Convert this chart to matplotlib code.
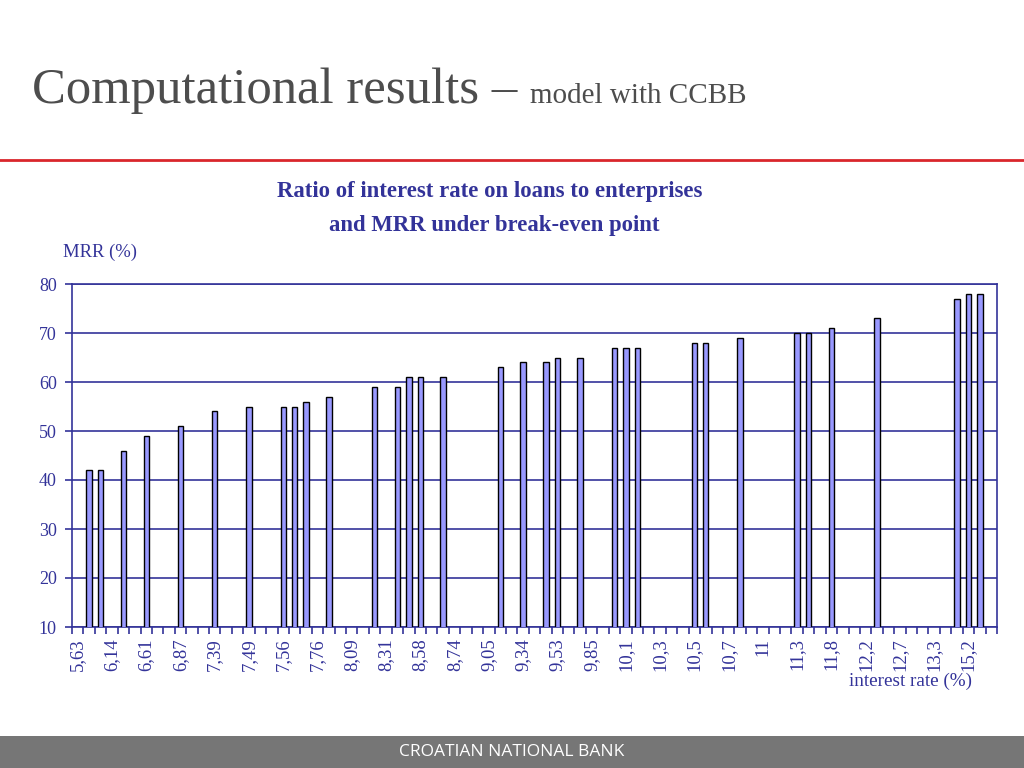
import numpy as np
import matplotlib
matplotlib.use('Agg')
import matplotlib.pyplot as plt

# interest rate labels shown on the axis (every third category)
rate_labels = ['5,63', '6,14', '6,61', '6,87', '7,39', '7,49', '7,56', '7,76', '8,09',
               '8,31', '8,58', '8,74', '9,05', '9,34', '9,53', '9,85', '10,1', '10,3',
               '10,5', '10,7', '11', '11,3', '11,8', '12,2', '12,7', '13,3', '15,2']

# MRR (%) for each of the 81 categories, None = no bar
N = None
mrr = [N, 42, 42, N, 46, N, 49, N, N,
       51, N, N, 54, N, N, 55, N, N,
       55, 55, 56, N, 57, N, N, N, 59,
       N, 59, 61, 61, N, 61, N, N, N,
       N, 63, N, 64, N, 64, 65, N, 65,
       N, N, 67, 67, 67, N, N, N, N,
       68, 68, N, N, 69, N, N, N, N,
       70, 70, N, 71, N, N, N, 73, N,
       N, N, N, N, N, 77, 78, 78, N]

yticks = [10, 20, 30, 40, 50, 60, 70, 80]

navy = '#333399'
serif = 'Liberation Serif'

fig = plt.figure(figsize=(10.24, 7.68), dpi=100)

# slide header
fig.text(32 / 1024, 1 - 103 / 768, 'Computational results \u2013', fontsize=36.5,
         family=serif, color='#4d4d4d', ha='left', va='baseline')
fig.text(530 / 1024, 1 - 103 / 768, 'model with CCBB', fontsize=21,
         family=serif, color='#4d4d4d', ha='left', va='baseline')
fig.add_artist(plt.Line2D([0, 1], [1 - 160 / 768] * 2, color='#d9262b', lw=2))

# chart title
fig.text(490 / 1024, 1 - 192 / 768, 'Ratio of interest rate on loans to enterprises',
         fontsize=16.4, family=serif, weight='bold', color=navy, ha='center', va='center')
fig.text(494 / 1024, 1 - 225 / 768, 'and MRR under break-even point',
         fontsize=16.4, family=serif, weight='bold', color=navy, ha='center', va='center')

ax = fig.add_axes([72 / 1024, 1 - 627 / 768, 925 / 1024, 343 / 768])

x = np.arange(len(mrr))
pos = [i for i in x if mrr[i] is not None]
vals = [mrr[i] for i in pos]
ax.bar(pos, vals, width=0.47, color='#9999ff', edgecolor='black', linewidth=1, zorder=3)

ax.set_xlim(-0.5, len(mrr) - 0.5)
ax.set_ylim(10, 80)
ax.set_yticks(yticks)
ax.yaxis.grid(True, color=navy, lw=1.2, zorder=0)
for s in ax.spines.values():
    s.set_color(navy)
    s.set_linewidth(1.2)

ax.set_xticks(np.arange(0, len(mrr), 3))
ax.set_xticklabels(rate_labels, rotation=90, family=serif, fontsize=13.5, color=navy)
ax.set_xticks(np.arange(-0.5, len(mrr), 1), minor=True)
ax.tick_params(axis='x', which='major', length=0, pad=8)
ax.tick_params(axis='x', which='minor', length=5, color=navy, width=1.2, direction='out')
ax.tick_params(axis='y', length=5, color=navy, width=1.2, labelsize=13, labelcolor=navy, pad=6)
for t in ax.get_yticklabels():
    t.set_family(serif)

fig.text(63 / 1024, 1 - 252 / 768, 'MRR (%)', fontsize=13.4, family=serif,
         color=navy, ha='left', va='center')
fig.text(972 / 1024, 1 - 681 / 768, 'interest rate (%)', fontsize=13.8, family=serif,
         color=navy, ha='right', va='center')

# footer band
fig.add_artist(plt.Rectangle((0, 0), 1, 32 / 768, transform=fig.transFigure,
                             color='#767676', lw=0))
fig.text(0.5, 16 / 768, 'CROATIAN NATIONAL BANK', fontsize=12.5, family='Open Sans',
         color='white', ha='center', va='center')

fig.savefig('out.png', dpi=100)
